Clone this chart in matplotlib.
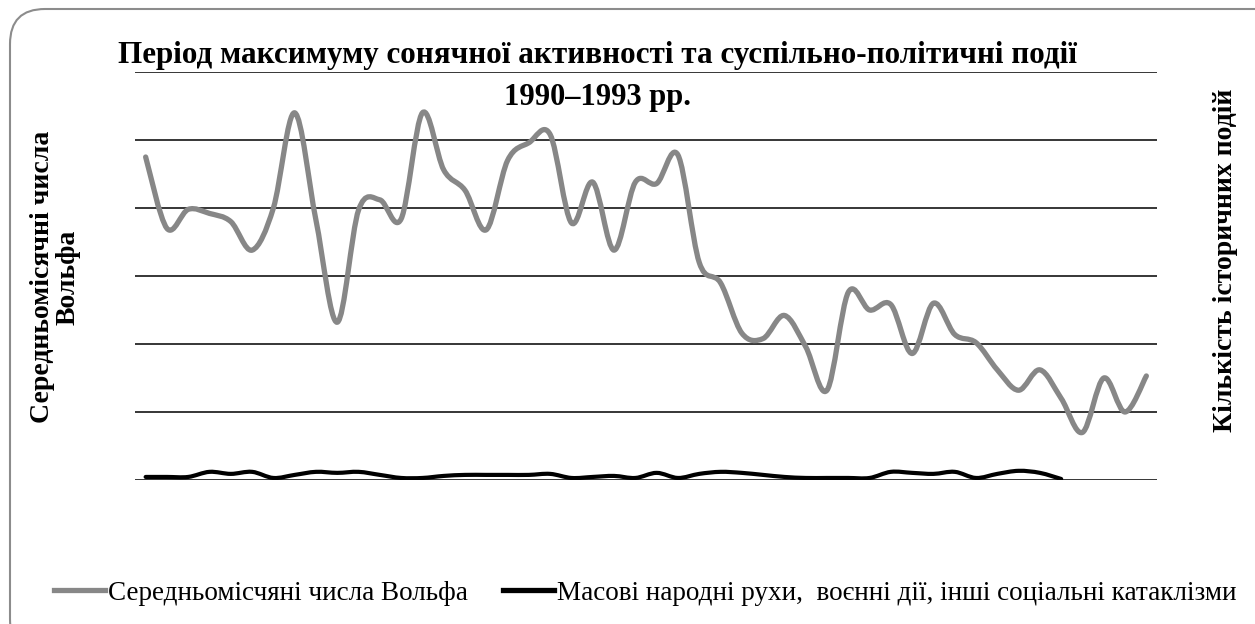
import numpy as np
import matplotlib
matplotlib.use("Agg")
import matplotlib.pyplot as plt
from matplotlib.path import Path
from matplotlib.patches import PathPatch, FancyBboxPatch
from matplotlib.lines import Line2D
from matplotlib.transforms import IdentityTransform

# monthly mean Wolf numbers, 1990-1993
wolf = [237.5, 185, 199, 196, 190, 169, 200, 270, 191, 116,
        198.5, 206, 192, 270, 228, 213, 184, 235, 248, 254,
        189, 219, 169, 219, 218, 239, 160, 145, 108, 104,
        121, 98, 66, 138, 125, 129, 93, 130, 107, 101,
        81, 66, 81, 60, 35, 75, 50, 76.5]

# mass movements, wars, other social cataclysms (secondary axis)
events = [1.5, 1.5, 1.5, 4, 3, 4, 1, 2.5, 4, 3.5,
          4, 2.5, 1, 1, 2, 2.5, 2.5, 2.5, 2.5, 3,
          1, 1.5, 2, 1, 3.5, 1, 3, 4, 3.5, 2.5,
          1.5, 1, 1, 1, 1, 4, 3.5, 3, 4, 1,
          3, 4.5, 3.5, 0.5]

title_1 = "Період максимуму сонячної активності та суспільно-політичні події"
title_2 = "1990–1993 рр."
ylabel_left = "Середньомісячні числа\nВольфа"
ylabel_right = "Кількість історичних подій"
legend_labels = ["Середньомісчяні числа Вольфа",
                 "Масові народні рухи,  воєнні дії, інші соціальні катаклізми"]

GRAY = "#878787"
serif = ["Liberation Serif", "DejaVu Serif"]


def smooth_path(y):
    # excel-like smoothed line: catmull-rom segments as cubic beziers
    x = np.arange(len(y), dtype=float)
    y = np.asarray(y, dtype=float)
    px = np.concatenate([[x[0]], x, [x[-1]]])
    py = np.concatenate([[y[0]], y, [y[-1]]])
    verts = [(x[0], y[0])]
    codes = [Path.MOVETO]
    for i in range(len(x) - 1):
        p0 = np.array([px[i], py[i]])
        p1 = np.array([px[i + 1], py[i + 1]])
        p2 = np.array([px[i + 2], py[i + 2]])
        p3 = np.array([px[i + 3], py[i + 3]])
        c1 = p1 + (p2 - p0) / 6.0
        c2 = p2 - (p3 - p1) / 6.0
        verts += [tuple(c1), tuple(c2), tuple(p2)]
        codes += [Path.CURVE4] * 3
    return Path(verts, codes)


fig = plt.figure(figsize=(12.55, 6.24), dpi=100)
ax = fig.add_axes([135 / 1255, 1 - 480 / 624, 1022 / 1255, 408 / 624])
ax2 = ax.twinx()

ax.set_xlim(-0.5, 47.5)
ax.set_ylim(0, 300)
ax2.set_ylim(0, 200)

for v in range(0, 301, 50):
    ax.axhline(v, color="black", lw=1.1, zorder=1)

ax.add_patch(PathPatch(smooth_path(wolf), facecolor="none", edgecolor=GRAY,
                       lw=3.8, capstyle="round", joinstyle="round", zorder=3))
ax2.add_patch(PathPatch(smooth_path(events), facecolor="none", edgecolor="black",
                        lw=3.0, capstyle="round", joinstyle="round", zorder=3))

for a in (ax, ax2):
    a.set_xticks([])
    a.set_yticks([])
    for s in a.spines.values():
        s.set_visible(False)
    a.patch.set_visible(False)

fig.text(597 / 1255, 1 - 55 / 624, title_1, ha="center", va="center",
         fontsize=22.4, fontweight="bold", family=serif)
fig.text(597 / 1255, 1 - 97 / 624, title_2, ha="center", va="center",
         fontsize=22, fontweight="bold", family=serif)
fig.text(55 / 1255, 1 - 277 / 624, ylabel_left, ha="center", va="center",
         rotation=90, fontsize=20, fontweight="bold", family=serif,
         linespacing=1.05)
fig.text(1225 / 1255, 1 - 260 / 624, ylabel_right, ha="center", va="center",
         rotation=90, fontsize=20, fontweight="bold", family=serif)

handles = [Line2D([], [], color=GRAY, lw=3.8),
           Line2D([], [], color="black", lw=3.8)]
fig.legend(handles, legend_labels, loc="center", ncol=2,
           bbox_to_anchor=(645 / 1255, 1 - 593 / 624), frameon=False,
           prop={"family": serif, "size": 19.5}, handlelength=1.9,
           handletextpad=0.1, columnspacing=1.3)

# rounded chart border, running off the bottom and right edges
border = FancyBboxPatch((10, -30), 1290, 645,
                        boxstyle="round,pad=0,rounding_size=35",
                        transform=IdentityTransform(), facecolor="none",
                        edgecolor="#8c8c8c", lw=1.5)
fig.add_artist(border)

fig.savefig("out.png", dpi=100)
